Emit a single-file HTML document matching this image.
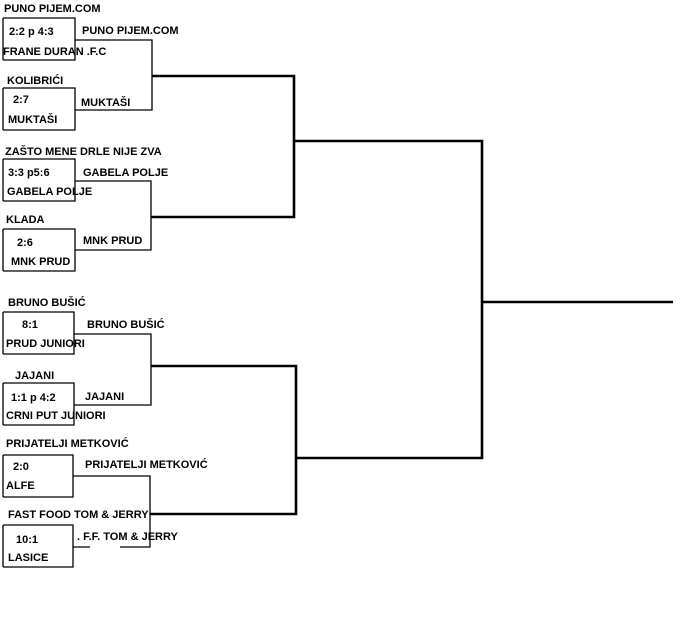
<!DOCTYPE html>
<html><head><meta charset="utf-8"><style>
html,body{margin:0;padding:0;background:#fff;width:689px;height:640px;overflow:hidden}
svg{display:block}
text{font-family:"Liberation Sans",Arial,sans-serif;font-weight:bold;font-size:11px;fill:#000}
</style></head><body>
<svg width="689" height="640" viewBox="0 0 689 640" xmlns="http://www.w3.org/2000/svg">
<g fill="none" stroke="#000" stroke-width="1.3">
<polyline points="3,18 75,18 75,60 3,60"/>
<polyline points="3,88 75,88 75,130 3,130"/>
<polyline points="3,159 75,159 75,201 3,201"/>
<polyline points="3,229 75,229 75,271 3,271"/>
<polyline points="3,312 74,312 74,354 3,354"/>
<polyline points="3,383 74,383 74,425 3,425"/>
<polyline points="3,455 73,455 73,497 3,497"/>
<polyline points="3,525 73,525 73,567 3,567"/>
<line x1="3" y1="18" x2="3" y2="60"/><line x1="3" y1="88" x2="3" y2="130"/>
<line x1="3" y1="159" x2="3" y2="201"/><line x1="3" y1="229" x2="3" y2="271"/>
<line x1="3" y1="312" x2="3" y2="354"/><line x1="3" y1="383" x2="3" y2="425"/>
<line x1="3" y1="455" x2="3" y2="497"/><line x1="3" y1="525" x2="3" y2="567"/>
<polyline points="75,40 152,40 152,110 75,110"/>
<polyline points="75,181 151,181 151,250 75,250"/>
<polyline points="74,334 151,334 151,405 74,405"/>
<polyline points="73,476 150,476 150,547 120,547"/>
<line x1="73" y1="547" x2="90" y2="547"/>
</g>
<g fill="none" stroke="#000" stroke-width="2.6">
<polyline points="152,76 294,76 294,217 151,217"/>
<polyline points="151,366 296,366 296,514 150,514"/>
<polyline points="294,141 482,141 482,458 296,458"/>
<line x1="482" y1="302" x2="673" y2="302"/>
</g>
<text x="4" y="12">PUNO PIJEM.COM</text>
<text x="9" y="35">2:2 p 4:3</text>
<text x="3" y="55">FRANE DURAN .F.C</text>
<text x="82" y="34">PUNO PIJEM.COM</text>
<text x="7" y="84">KOLIBRIĆI</text>
<text x="13" y="103">2:7</text>
<text x="8" y="123">MUKTAŠI</text>
<text x="81" y="106">MUKTAŠI</text>
<text x="5" y="155">ZAŠTO MENE DRLE NIJE ZVA</text>
<text x="8" y="176">3:3 p5:6</text>
<text x="7" y="195">GABELA POLJE</text>
<text x="83" y="176">GABELA POLJE</text>
<text x="6" y="223">KLADA</text>
<text x="17" y="246">2:6</text>
<text x="11" y="265">MNK PRUD</text>
<text x="83" y="244">MNK PRUD</text>
<text x="8" y="306">BRUNO BUŠIĆ</text>
<text x="22" y="328">8:1</text>
<text x="6" y="347">PRUD JUNIORI</text>
<text x="87" y="328">BRUNO BUŠIĆ</text>
<text x="15" y="379">JAJANI</text>
<text x="11" y="401">1:1 p 4:2</text>
<text x="6" y="419">CRNI PUT JUNIORI</text>
<text x="85" y="400">JAJANI</text>
<text x="6" y="447">PRIJATELJI METKOVIĆ</text>
<text x="13" y="470">2:0</text>
<text x="6" y="489">ALFE</text>
<text x="85" y="468">PRIJATELJI METKOVIĆ</text>
<text x="8" y="518">FAST FOOD TOM &amp; JERRY</text>
<text x="16" y="543">10:1</text>
<text x="8" y="561">LASICE</text>
<text x="77" y="540">. F.F. TOM &amp; JERRY</text>
</svg>
</body></html>
